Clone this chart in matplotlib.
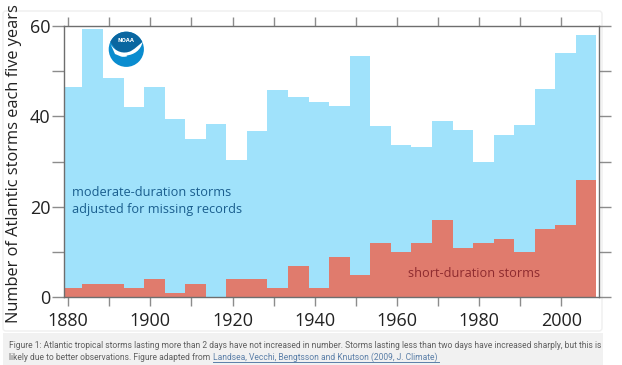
import matplotlib
matplotlib.use("Agg")
import matplotlib.pyplot as plt
import numpy as np
from matplotlib.patches import FancyBboxPatch, Rectangle, Circle, Polygon, PathPatch
from matplotlib.path import Path

years = list(range(1881, 2007, 5))
total_storms = [46.4, 59.3, 48.4, 42, 46.5, 39.4, 35, 38.3, 30.3, 36.8, 45.8, 44.2, 43.3,
                42.4, 53.4, 37.9, 33.7, 33.2, 39, 37, 30, 36, 38, 46, 54, 58]
short_storms = [2, 3, 3, 2, 4, 1, 3, 0, 4, 4, 2, 7, 2, 9, 5, 12, 10, 12, 17, 11, 12, 13, 10, 15, 16, 26]
x_tick_labels = ["1880", "", "1900", "", "1920", "", "1940", "", "1960", "", "1980", "", "2000"]
y_tick_labels = ["0", "", "20", "", "40", "", "60"]
caption1 = "Figure 1: Atlantic tropical storms lasting more than 2 days have not increased in number. Storms lasting less than two days have increased sharply, but this is"
caption2 = "likely due to better observations. Figure adapted from "
link = "Landsea, Vecchi, Bengtsson and Knutson (2009, J. Climate)"

W, H = 622, 365
fig = plt.figure(figsize=(W/100, H/100), dpi=100, facecolor="white")
bg = fig.add_axes([0, 0, 1, 1], zorder=0)
bg.set_xlim(0, W); bg.set_ylim(H, 0); bg.axis("off")
bg.add_patch(FancyBboxPatch((3, 11), 599, 320, boxstyle="round,pad=0,rounding_size=3",
                            fc="white", ec="#efefef", lw=1))
bg.add_patch(Rectangle((3, 333), 600, 32, fc="#f1f1f1", ec="none"))

ax = fig.add_axes([63.5/W, 1-297.3/H, 535/W, 271.3/H], zorder=1)
ax.patch.set_alpha(0)
edges = np.array(years) - 2.5
ax.bar(edges, total_storms, width=5, align="edge", color="#a0e2fb", edgecolor="none")
ax.bar(edges, short_storms, width=5, align="edge", color="#e07b6d", edgecolor="none")
ax.set_xlim(1878.9, 2009)
ax.set_ylim(0, 60)
for s in ax.spines.values():
    s.set_color("#6e6e6e"); s.set_linewidth(1)
ax.set_xticks(range(1880, 2001, 10))
ax.set_xticklabels(x_tick_labels)
ax.set_yticks(range(0, 61, 10))
ax.set_yticklabels(y_tick_labels)
ax.tick_params(axis="both", direction="out", color="#8c8c8c", width=1, labelcolor="#222222",
               labelsize=13)
ax.tick_params(axis="x", length=6.5, top=True, pad=4)
ax.tick_params(axis="y", length=8.5, right=True, pad=1)
for lab in ax.get_xticklabels() + ax.get_yticklabels():
    lab.set_family("Open Sans")
ax.set_ylabel("Number of Atlantic storms each five years", family="Open Sans", fontsize=11.8,
              color="#222222")
ax.yaxis.set_label_coords((22-63.5)/535, 0.493)

ov = fig.add_axes([0, 0, 1, 1], zorder=2)
ov.set_xlim(0, W); ov.set_ylim(H, 0); ov.axis("off"); ov.patch.set_alpha(0)
ov.text(72.5, 192.5, "moderate-duration storms", family="Open Sans", fontsize=9.2, color="#1a5e8e", va="center")
ov.text(72.5, 209.5, "adjusted for missing records", family="Open Sans", fontsize=9.2, color="#1a5e8e", va="center")
ov.text(408, 273.5, "short-duration storms", family="Open Sans", fontsize=9.2, color="#8e2b2f", va="center")

# logo
cx, cy, r = 126.3, 49.3, 17.6
ov.add_patch(Circle((cx, cy), r, fc="#0a8ccf", ec="none", zorder=3))
theta = np.radians(np.linspace(205, 335, 30))
arc = np.c_[cx + r*np.cos(theta), cy + r*np.sin(theta)]
cap = np.r_[arc, [[cx + 9, cy + 2]], [[cx, cy + 6]], [[cx - 10, cy + 1]]]
ov.add_patch(Polygon(cap, fc="#0a66a0", ec="none", zorder=4))
swoosh = Path([(110.5, 44), (115, 52), (124, 54.5), (131, 51), (136, 48), (140, 44), (142.5, 42),
               (141, 50), (134, 55), (126, 55.5), (130, 56), (124, 57.5), (121, 56.5), (115, 54), (110.5, 44)],
              [Path.MOVETO] + [Path.CURVE4]*12 + [Path.LINETO]*2)
ov.add_patch(PathPatch(swoosh, fc="white", ec="none", zorder=5))
ov.text(cx, 41, "NOAA", color="white", fontsize=3.8, weight="bold", ha="center", va="center", zorder=6)

capfam = "Roboto"
capsize = 7.0
t1 = ov.text(9, 345, caption1, family=capfam, fontsize=capsize, color="#5f5f5f", va="center")
rend = fig.canvas.get_renderer()
for _ in range(4):
    capsize = capsize * 593.5 / t1.get_window_extent(rend).width
    t1.set_fontsize(capsize)
ov.text(9, 357, caption2, family=capfam, fontsize=capsize, color="#5f5f5f", va="center")
ov.text(213, 357, link, family=capfam, fontsize=capsize, color="#5b7fa8", va="center")
ov.plot([213, 438.5], [362, 362], color="#5b7fa8", lw=0.7)

fig.savefig("out.png", dpi=100)
